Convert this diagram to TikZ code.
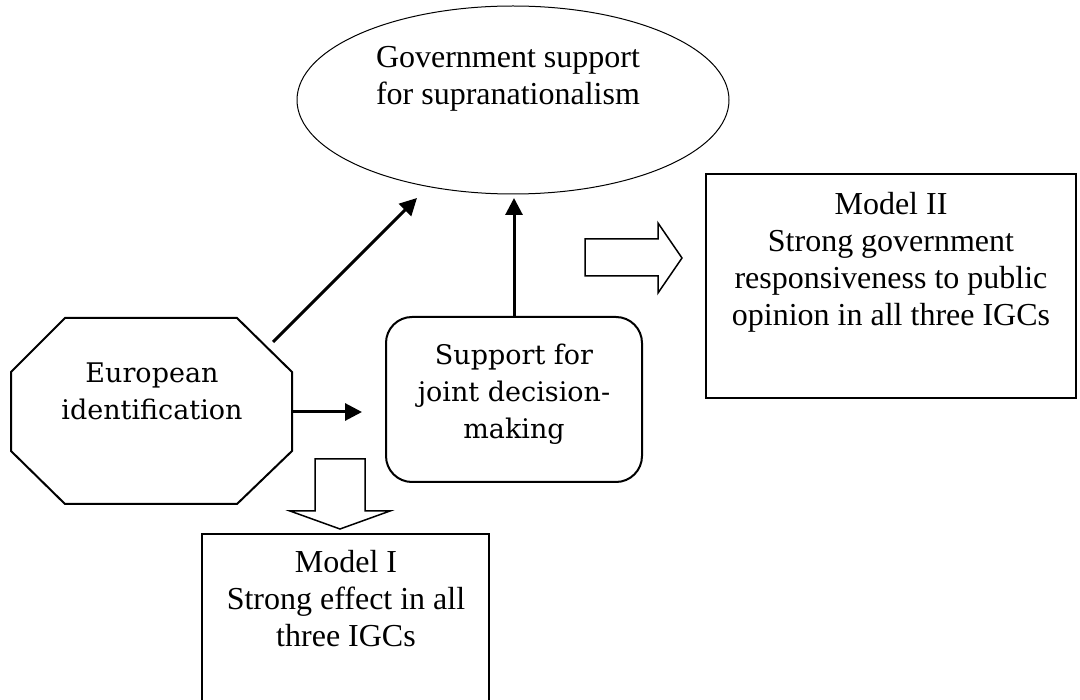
\documentclass[tikz,border=0pt]{standalone}
\usepackage{fontspec}
\setmainfont{Liberation Serif}
\newfontfamily\cambriafont{DejaVu Serif}
\usetikzlibrary{shapes.geometric,arrows.meta}
\begin{document}
\begin{tikzpicture}[x=1pt,y=-1pt,
  frame/.style={draw, line width=2pt, rectangle, inner sep=0pt, outer sep=0pt},
  tnr/.style={font=\fontsize{32}{37}\selectfont, align=center, inner sep=0pt, anchor=base},
  cam/.style={font=\cambriafont\fontsize{27}{37}\selectfont, align=center, inner sep=0pt, anchor=base},
  conn/.style={line width=3pt, -{Triangle[length=17pt,width=17pt]}},
  block/.style={draw, line width=1.5pt, line join=miter, fill=white}]
\useasboundingbox (0,0) rectangle (1080,700);
\clip (0,0) rectangle (1080,700);

% ellipse
\node[draw, ellipse, line width=1pt, minimum width=432pt, minimum height=188pt, inner sep=0pt] (ell) at (513,100) {};
\node[tnr] (ellT) at (508,105) {Government support\\for supranationalism};

% octagon
\draw[line width=2pt, line join=miter] (65,318) -- (237,318) -- (292,372) -- (292,451) -- (237,504) -- (65,504) -- (11,451) -- (11,372) -- cycle;
\node[cam] (oct) at (152,420) {European\\identification};

% rounded rectangle
\node[frame, rounded corners=26pt, minimum width=256pt, minimum height=165pt] (rr) at (514,399.5) {};
\node[cam] (rrT) at (514,439) {Support for\\joint decision-\\making};

% Model II
\node[frame, minimum width=370pt, minimum height=224pt] (m2) at (891,286) {};
\node[tnr] (m2T) at (891,326) {Model II\\Strong government\\responsiveness to public\\opinion in all three IGCs};

% Model I
\node[frame, minimum width=287pt, minimum height=200pt] (m1) at (345.5,634) {};
\node[tnr] (m1T) at (346,646) {Model I\\Strong effect in all\\three IGCs};

% connectors
\coordinate (a1s) at (273,342);
\coordinate (a1e) at (417,198);
\draw[conn] (a1s) -- (a1e);
\coordinate (a2e) at (514,198);
\draw[conn] (rr.north) -- (a2e);
\coordinate (a3s) at (292,412);
\coordinate (a3e) at (362,412);
\draw[conn] (a3s) -- (a3e);

% block arrows
\draw[block] (585,239) -- (658,239) -- (658,223) -- (682,258) -- (658,293) -- (658,276) -- (585,276) -- cycle;
\draw[block] (315,459) -- (365,459) -- (365,511) -- (390,511) -- (340,529) -- (290,511) -- (315,511) -- cycle;
\end{tikzpicture}
\end{document}
